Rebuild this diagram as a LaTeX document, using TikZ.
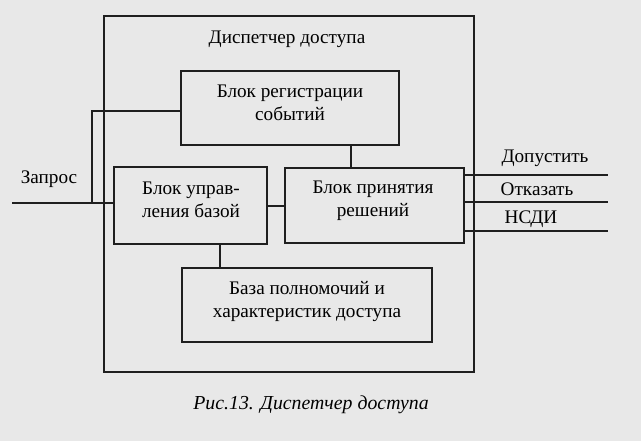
\documentclass[tikz,border=0pt]{standalone}
\usepackage{fontspec}
\setmainfont{Liberation Serif}
\begin{document}
\begin{tikzpicture}[x=1pt,y=-1pt,
  line width=2pt,
  ink/.style={draw=black!88},
  blk/.style={ink, rectangle, inner sep=0pt},
  txt/.style={font=\fontsize{19.2}{23}\selectfont, text=black, align=center, inner sep=0pt},
  wire/.style={ink}]
% page
\fill[black!9] (0,0) rectangle (641,441);
\useasboundingbox (0,0) rectangle (641,441);

% blocks
\node[blk, minimum width=370pt, minimum height=356pt] (outer) at (289,194) {};
\node[blk, minimum width=218pt, minimum height=74pt] (reg) at (290,108) {};
\node[blk, minimum width=153pt, minimum height=77pt] (ctrl) at (190.5,205.5) {};
\node[blk, minimum width=179pt, minimum height=75pt] (dec) at (374.5,205.5) {};
\node[blk, minimum width=250pt, minimum height=74pt] (db) at (307,305) {};

% block captions
\node[txt] (tOuter) at (287,39) {Диспетчер доступа};
\node[txt] (tReg) at (290,103) {Блок регистрации\\событий};
\node[txt] (tCtrl) at (191,200) {Блок управ-\\ления базой};
\node[txt] (tDec) at (373,201) {Блок принятия\\решений};
\node[txt] (tDb) at (307,302) {База полномочий и\\характеристик доступа};

% input
\coordinate (zin) at (12,203);
\coordinate (tap) at (92,203);
\node[txt] (lIn) at (49,179) {Запрос};
\draw[wire] (zin) -- (zin -| ctrl.west);
\draw[wire] (tap) |- ([yshift=-3pt]reg.west);

% internal links
\draw[wire] ([yshift=-0.5pt]ctrl.east) -- ([yshift=-0.5pt]dec.west);
\draw[wire] ([xshift=61pt]reg.south) -- ([xshift=61pt]reg.south |- dec.north);
\draw[wire] ([xshift=29.5pt]ctrl.south) -- ([xshift=29.5pt]ctrl.south |- db.north);

% outputs
\coordinate (o1) at (608,175);
\coordinate (o2) at (608,202);
\coordinate (o3) at (608,231);
\draw[wire] (dec.east |- o1) -- (o1);
\draw[wire] (dec.east |- o2) -- (o2);
\draw[wire] (dec.east |- o3) -- (o3);
\node[txt] (lOk) at (545,158) {Допустить};
\node[txt] (lNo) at (537,189) {Отказать};
\node[txt] (lNs) at (531,219) {НСДИ};

% figure caption
\node[txt, font=\fontsize{19.8}{23}\selectfont\itshape] (cap) at (311,405) {Рис.13. Диспетчер доступа};
\end{tikzpicture}
\end{document}
